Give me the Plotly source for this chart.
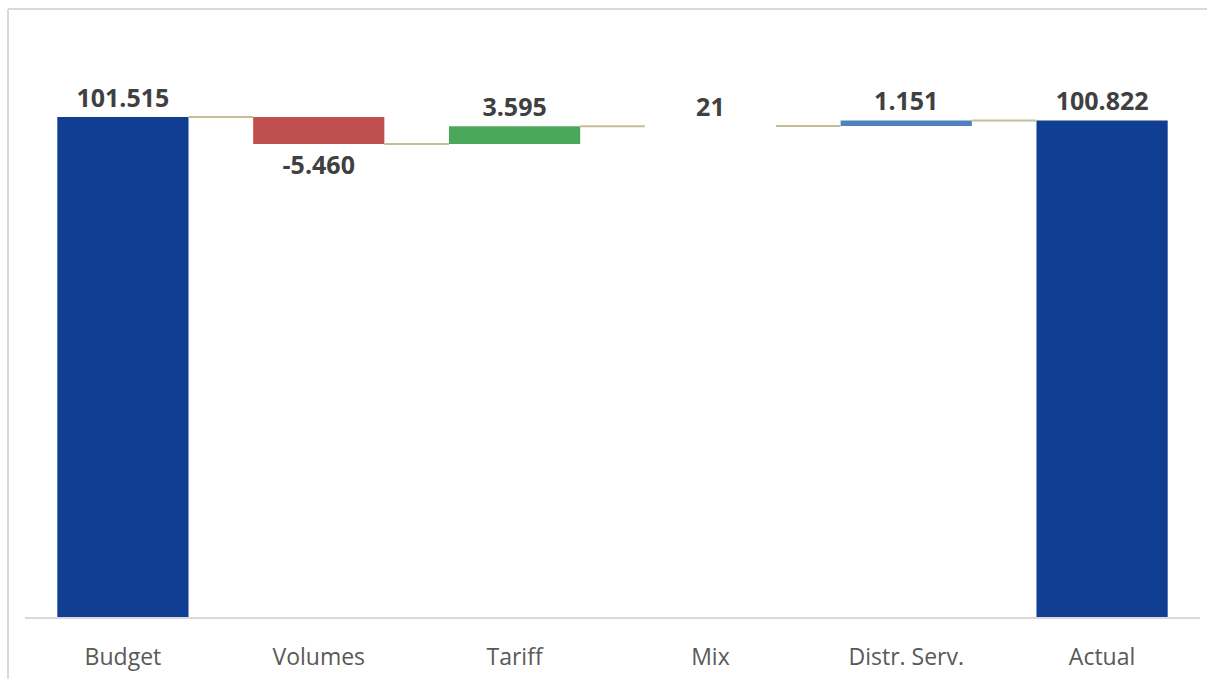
import plotly.graph_objects as go

categories = ["Budget", "Volumes", "Tariff", "Mix", "Distr. Serv.", "Actual"]
values = [101515, -5460, 3595, 21, 1151, 100822]
is_total = [True, False, False, False, False, True]
colors = ["#0F3E93", "#C0504D", "#4BA85A", "rgba(0,0,0,0)", "#4F81BD", "#0F3E93"]

# compute bases for floating bars
bases = []
ends = []
running = 0
for v, tot in zip(values, is_total):
    if tot:
        bases.append(0)
        running = v
    else:
        bases.append(running)
        running += v
    ends.append(running)

labels = [f"{v:,}".replace(",", ".") for v in values]

fig = go.Figure()
fig.add_trace(go.Bar(
    x=categories,
    y=values,
    base=bases,
    marker=dict(color=colors, line=dict(width=0)),
    text=labels,
    textposition="outside",
    textfont=dict(family="Open Sans", size=25, color="#404040", weight="bold"),
    cliponaxis=False,
    showlegend=False,
))

bar_w = 0.67
half = bar_w / 2
for i in range(len(categories) - 1):
    fig.add_shape(type="line", xref="x", yref="y",
                  x0=i + half, x1=i + 1 - half, y0=ends[i], y1=ends[i],
                  line=dict(color="#C4BD97", width=2))

# outer frame (top and left edges)
W, H = 1207, 679
ml, mr, mt, mb = 25, 7, 26, 62
pw, ph = W - ml - mr, H - mt - mb
fx = (8 - ml) / pw
fy = (H - mb - 9) / ph
fig.add_shape(type="line", xref="paper", yref="paper", x0=fx, x1=(W - ml) / pw + 0.01,
              y0=fy, y1=fy, line=dict(color="#D9D9D9", width=2))
fig.add_shape(type="line", xref="paper", yref="paper", x0=fx, x1=fx,
              y0=fy, y1=-0.2, line=dict(color="#D9D9D9", width=2))

fig.update_layout(
    width=W, height=H,
    margin=dict(l=ml, r=mr, t=mt, b=mb),
    paper_bgcolor="white", plot_bgcolor="white",
    bargap=1 - bar_w,
    font=dict(family="Open Sans"),
    xaxis=dict(showline=True, linecolor="#D9D9D9", linewidth=2,
               tickfont=dict(family="Open Sans", size=23, color="#595959"),
               ticks="", ticklabelstandoff=18, showgrid=False),
    yaxis=dict(range=[0, 120000], visible=False, showgrid=False, zeroline=False),
)

fig.write_html("out.html")
